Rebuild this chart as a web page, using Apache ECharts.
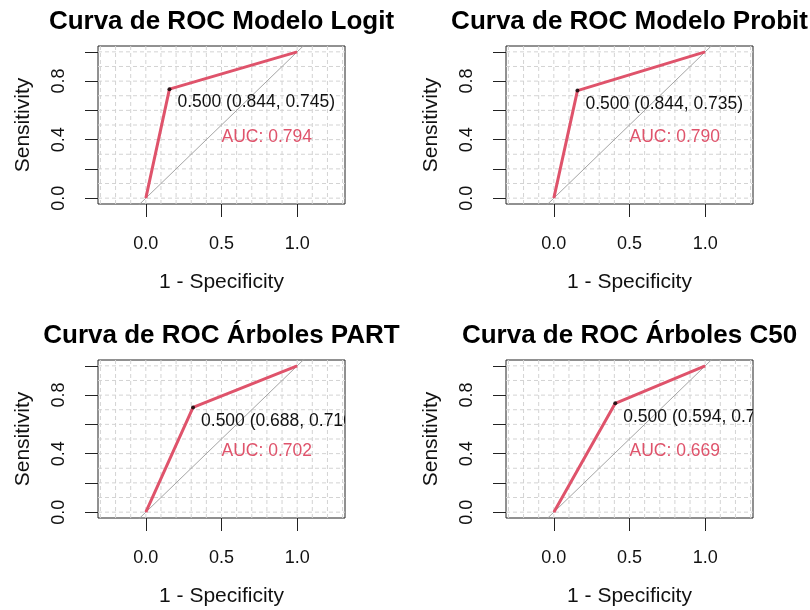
<!DOCTYPE html>
<html>
<head>
<meta charset="utf-8">
<script src="https://cdn.jsdelivr.net/npm/echarts@6/dist/echarts.min.js"></script>
<style>
  html, body { margin: 0; padding: 0; background: #ffffff; }
  #chart { width: 810px; height: 610px; }
</style>
</head>
<body>
<div id="chart"></div>
<script>
// ROC curves of four classifiers, one panel each
const panelTitles = [
  'Curva de ROC Modelo Logit',
  'Curva de ROC Modelo Probit',
  'Curva de ROC Árboles PART',
  'Curva de ROC Árboles C50'
];
const thresholds  = [0.500, 0.500, 0.500, 0.500];
const specificity = [0.844, 0.844, 0.688, 0.594];
const sensitivity = [0.745, 0.735, 0.716, 0.744];
const aucValues   = [0.794, 0.790, 0.702, 0.669];

// axis ticks and labels
const xTickValues  = [0, 0.5, 1];
const yTickValues  = [0, 0.2, 0.4, 0.6, 0.8, 1];
const yLabelValues = [0, 0.4, 0.8];
// background grid lines
const xGridValues = [-0.3, -0.2, -0.1, 0, 0.1, 0.2, 0.3, 0.4, 0.5, 0.6, 0.7, 0.8, 0.9, 1, 1.1, 1.2, 1.3];
const yGridValues = [0, 0.1, 0.2, 0.3, 0.4, 0.5, 0.6, 0.7, 0.8, 0.9, 1];

const FONT = '"Liberation Sans", Arial, Helvetica, sans-serif';
const RED = '#DF536B';
const GRID_STYLE = { stroke: '#d3d3d3', lineWidth: 1, lineDash: [4, 3] };
const X_MIN = -0.316, X_MAX = 1.316;
const Y_MIN = -0.04, Y_MAX = 1.04;
const PANEL_W = 247, PANEL_H = 158;
const panelPos = [
  { left: 98,  top: 46 },
  { left: 506, top: 46 },
  { left: 98,  top: 360 },
  { left: 506, top: 360 }
];

const grids = [], xAxes = [], yAxes = [], series = [], graphics = [];

panelPos.forEach((p, i) => {
  grids.push({
    left: p.left, top: p.top, width: PANEL_W, height: PANEL_H,
    show: true, borderColor: '#222', borderWidth: 1, backgroundColor: 'transparent'
  });

  xAxes.push({
    type: 'value', gridIndex: i, min: X_MIN, max: X_MAX, position: 'bottom',
    axisLine: { show: false, onZero: false },
    splitLine: { show: false },
    axisTick: { show: true, customValues: xTickValues, length: 13, lineStyle: { color: '#222', width: 1 } },
    axisLabel: {
      customValues: xTickValues, formatter: v => v.toFixed(1),
      fontSize: 18, color: '#111', fontFamily: FONT, margin: 31
    },
    name: '1 - Specificity', nameLocation: 'middle', nameGap: 68,
    nameTextStyle: { fontSize: 21, color: '#111', fontFamily: FONT }
  });

  yAxes.push({
    type: 'value', gridIndex: i, min: Y_MIN, max: Y_MAX, position: 'left',
    axisLine: { show: false, onZero: false },
    splitLine: { show: false },
    axisTick: { show: true, customValues: yTickValues, length: 13, lineStyle: { color: '#222', width: 1 } },
    axisLabel: {
      customValues: yLabelValues, formatter: v => v.toFixed(1), rotate: 90,
      fontSize: 18, color: '#111', fontFamily: FONT, margin: 30
    },
    name: 'Sensitivity', nameLocation: 'middle', nameGap: 64,
    nameTextStyle: { fontSize: 21, color: '#111', fontFamily: FONT }
  });

  // dotted background grid
  series.push({
    type: 'custom', xAxisIndex: i, yAxisIndex: i, silent: true, clip: true, z: 1,
    data: xGridValues.map(v => [v, 0]),
    renderItem: (params, api) => {
      const a = api.coord([api.value(0), Y_MIN]);
      const b = api.coord([api.value(0), Y_MAX]);
      return { type: 'line', shape: { x1: a[0], y1: a[1], x2: b[0], y2: b[1] }, style: GRID_STYLE };
    }
  });
  series.push({
    type: 'custom', xAxisIndex: i, yAxisIndex: i, silent: true, clip: true, z: 1,
    data: yGridValues.map(v => [0, v]),
    renderItem: (params, api) => {
      const a = api.coord([X_MIN, api.value(1)]);
      const b = api.coord([X_MAX, api.value(1)]);
      return { type: 'line', shape: { x1: a[0], y1: a[1], x2: b[0], y2: b[1] }, style: GRID_STYLE };
    }
  });

  // chance diagonal
  series.push({
    type: 'line', xAxisIndex: i, yAxisIndex: i, silent: true, clip: true, z: 2,
    data: [[-2, -2], [2, 2]], symbol: 'none',
    lineStyle: { color: '#a4a4a4', width: 1 }
  });

  const fpr = 1 - specificity[i];
  // ROC curve
  series.push({
    type: 'line', xAxisIndex: i, yAxisIndex: i, silent: true, clip: true, z: 3,
    data: [[0, 0], [fpr, sensitivity[i]], [1, 1]], symbol: 'none',
    lineStyle: { color: RED, width: 3 }
  });
  // threshold point
  series.push({
    type: 'scatter', xAxisIndex: i, yAxisIndex: i, silent: true, z: 4,
    data: [[fpr, sensitivity[i]]], symbol: 'circle', symbolSize: 4,
    itemStyle: { color: '#000' }
  });
  // threshold and AUC annotations, clipped to the plot box
  series.push({
    type: 'custom', xAxisIndex: i, yAxisIndex: i, silent: true, clip: true, z: 5,
    data: [[fpr, sensitivity[i]]],
    renderItem: (params, api) => {
      const pt = api.coord([api.value(0), api.value(1)]);
      const aucPt = api.coord([0.5, 0.42]);
      const cs = params.coordSys;
      const label = thresholds[i].toFixed(3) + ' (' + specificity[i].toFixed(3) + ', ' +
                    sensitivity[i].toFixed(3) + ')';
      return {
        type: 'group',
        clipPath: { type: 'rect', shape: { x: cs.x, y: cs.y, width: cs.width, height: cs.height } },
        children: [
          { type: 'text', x: pt[0] + 8, y: pt[1] + 13.5,
            style: { text: label, fill: '#111', fontSize: 17.5, fontFamily: FONT,
                     align: 'left', verticalAlign: 'middle' } },
          { type: 'text', x: aucPt[0], y: aucPt[1],
            style: { text: 'AUC: ' + aucValues[i].toFixed(3), fill: RED, fontSize: 17.5, fontFamily: FONT,
                     align: 'left', verticalAlign: 'middle' } }
        ]
      };
    }
  });

  graphics.push({
    type: 'text', x: p.left + PANEL_W / 2, y: p.top - 24,
    style: { text: panelTitles[i], fill: '#000', fontSize: 26, fontWeight: 'bold', fontFamily: FONT,
             align: 'center', verticalAlign: 'middle' }
  });
});

const chart = echarts.init(document.getElementById('chart'), null, { renderer: 'canvas' });
chart.setOption({
  animation: false,
  backgroundColor: '#ffffff',
  grid: grids,
  xAxis: xAxes,
  yAxis: yAxes,
  series: series,
  graphic: graphics
});
</script>
</body>
</html>
